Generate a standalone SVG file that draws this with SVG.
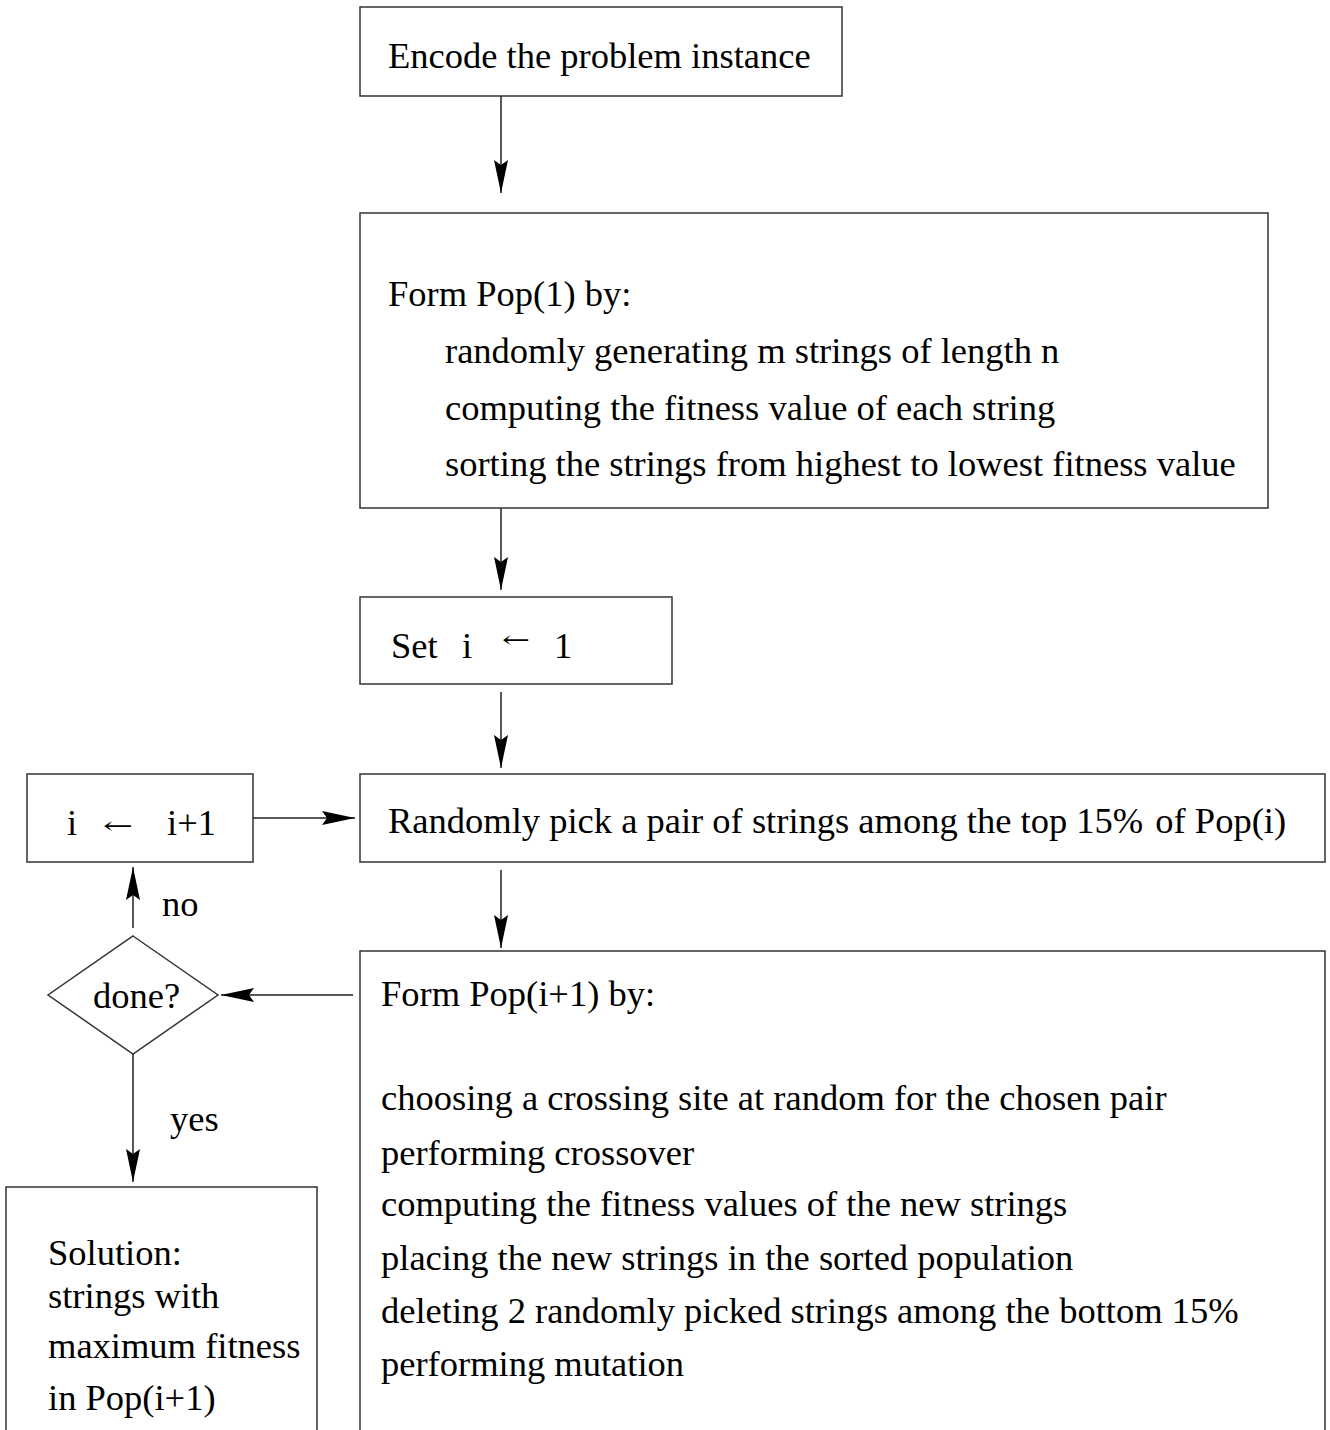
<svg xmlns="http://www.w3.org/2000/svg" width="1330" height="1430" viewBox="0 0 1330 1430">
<style>
.box{fill:none;stroke:#333;stroke-width:1.5}
.ln{fill:none;stroke:#222;stroke-width:1.5}
.t{font-family:"Liberation Serif","Times New Roman",serif;font-size:36.5px;fill:#000}
.ar{font-family:"DejaVu Serif","Liberation Serif",serif;font-size:24px;fill:#000}
</style>
<defs>
<marker id="ah" markerUnits="userSpaceOnUse" markerWidth="36" markerHeight="16" refX="33" refY="7" orient="auto">
<path d="M33,7 L0,0 L5,7 L0,14 Z" fill="#000"/>
</marker>
</defs>
<rect width="1330" height="1430" fill="#fff"/>
<g id="n1">
<rect class="box" x="360" y="7" width="482" height="89"/>
<text class="t" x="388" y="68">Encode the problem instance</text>
</g>
<g id="n2">
<rect class="box" x="360" y="213" width="908" height="295"/>
<text class="t" x="388" y="306">Form Pop(1) by:</text>
<text class="t" x="445" y="363">randomly generating m strings of length n</text>
<text class="t" x="445" y="420">computing the fitness value of each string</text>
<text class="t" x="445" y="476">sorting the strings from highest to lowest fitness value</text>
</g>
<g id="n3">
<rect class="box" x="360" y="597" width="312" height="87"/>
<text class="t" x="391" y="658">Set</text>
<text class="t" x="462" y="658">i</text>
<text class="ar" x="502" y="648" textLength="28" lengthAdjust="spacingAndGlyphs">←</text>
<text class="t" x="554" y="658">1</text>
</g>
<g id="n4">
<rect class="box" x="360" y="774" width="965" height="88"/>
<text class="t" x="388" y="833">Randomly pick a pair of strings among the top 15% <tspan dx="3">of Pop(i)</tspan></text>
</g>
<g id="n5">
<rect class="box" x="27" y="774" width="226" height="88"/>
<text class="t" x="67" y="835">i</text>
<text class="ar" x="103" y="834" textLength="30" lengthAdjust="spacingAndGlyphs">←</text>
<text class="t" x="167" y="835">i+1</text>
</g>
<g id="n6">
<polygon class="box" points="133,936 218,995 133,1054 48,995"/>
<text class="t" x="93" y="1008">done?</text>
</g>
<g id="n7">
<path class="box" d="M360,1432 V951 H1325 V1432"/>
<text class="t" x="381" y="1006">Form Pop(i+1) by:</text>
<text class="t" x="381" y="1110">choosing a crossing site at random for the chosen pair</text>
<text class="t" x="381" y="1165">performing crossover</text>
<text class="t" x="381" y="1216">computing the fitness values of the new strings</text>
<text class="t" x="381" y="1270">placing the new strings in the sorted population</text>
<text class="t" x="381" y="1323">deleting 2 randomly picked strings among the bottom 15%</text>
<text class="t" x="381" y="1376">performing mutation</text>
</g>
<g id="n8">
<path class="box" d="M6,1432 V1187 H317 V1432"/>
<text class="t" x="48" y="1265">Solution:</text>
<text class="t" x="48" y="1308">strings with</text>
<text class="t" x="48" y="1358">maximum fitness</text>
<text class="t" x="48" y="1410">in Pop(i+1)</text>
</g>
<g id="connectors">
<line class="ln" x1="501" y1="96" x2="501" y2="193" marker-end="url(#ah)"/>
<line class="ln" x1="501" y1="508" x2="501" y2="590" marker-end="url(#ah)"/>
<line class="ln" x1="501" y1="692" x2="501" y2="768" marker-end="url(#ah)"/>
<line class="ln" x1="501" y1="870" x2="501" y2="948" marker-end="url(#ah)"/>
<line class="ln" x1="253" y1="818" x2="355" y2="818" marker-end="url(#ah)"/>
<line class="ln" x1="353" y1="995" x2="221" y2="995" marker-end="url(#ah)"/>
<line class="ln" x1="133" y1="928" x2="133" y2="867" marker-end="url(#ah)"/>
<line class="ln" x1="133" y1="1054" x2="133" y2="1182" marker-end="url(#ah)"/>
<text class="t" x="162" y="916">no</text>
<text class="t" x="170" y="1131">yes</text>
</g>
</svg>
